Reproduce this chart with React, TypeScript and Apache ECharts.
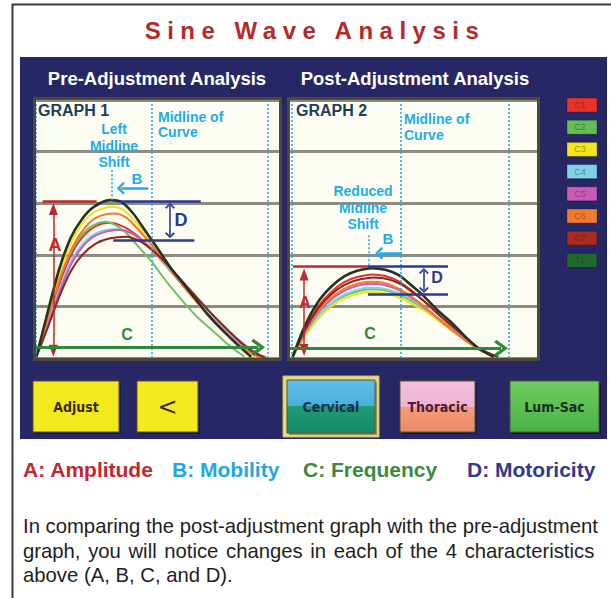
import { useEffect, useRef } from 'react';
import * as echarts from 'echarts';

// ---------- data ----------
const TITLE = 'Sine Wave Analysis';
const segments = ['C1', 'C2', 'C3', 'C4', 'C5', 'C6', 'C7', 'T1'];
const segmentColors = ['#e8322b', '#62be55', '#f4e51c', '#7fd2e6', '#c95bb8', '#f27a2a', '#a82a24', '#1f6b2e'];
const curveColors = ['#e8322b', '#6cc25c', '#f2e21a', '#7fd2e6', '#c95bb8', '#f27a2a', '#8e2420', '#283220'];

// Graph 1 (pre-adjustment): [x, amplitude]
const preC1 = [[0, 0], [0.5, 0.7], [1, 1.42], [1.5, 1.98], [2, 2.34], [2.6, 2.56], [3.2, 2.62], [3.8, 2.54], [4.4, 2.36], [5, 2.1], [5.6, 1.8], [6.2, 1.48], [6.8, 1.16], [7.4, 0.86], [8, 0.58], [8.6, 0.34], [9.2, 0.14], [9.8, 0.02]];
const preC2 = [[0, 0], [0.5, 0.78], [1, 1.5], [1.5, 2.05], [2, 2.4], [2.5, 2.58], [3, 2.64], [3.5, 2.56], [4, 2.38], [4.5, 2.12], [5, 1.87], [5.5, 1.56], [6, 1.28], [6.5, 1.02], [7, 0.78], [7.5, 0.58], [8, 0.38], [8.5, 0.19], [9, 0.03]];
const preC3 = [[0, 0], [0.5, 0.82], [1, 1.62], [1.5, 2.22], [2, 2.6], [2.5, 2.82], [3.3, 2.93], [3.8, 2.86], [4.3, 2.64], [4.8, 2.36], [5.3, 2.05], [5.9, 1.68], [6.5, 1.33], [7.1, 1.0], [7.7, 0.7], [8.3, 0.44], [8.9, 0.2], [9.5, 0.02]];
const preC4 = [[0, 0], [0.5, 0.66], [1, 1.32], [1.5, 1.86], [2, 2.2], [2.6, 2.42], [3.5, 2.5], [4.1, 2.42], [4.7, 2.22], [5.3, 1.96], [5.9, 1.66], [6.5, 1.34], [7.1, 1.04], [7.7, 0.74], [8.3, 0.48], [8.9, 0.26], [9.5, 0.08], [9.9, 0]];
const preC5 = [[0, 0], [0.5, 0.62], [1, 1.26], [1.5, 1.8], [2, 2.15], [2.6, 2.38], [3.6, 2.48], [4.2, 2.4], [4.8, 2.2], [5.4, 1.94], [6, 1.64], [6.6, 1.34], [7.2, 1.04], [7.8, 0.76], [8.4, 0.5], [9, 0.26], [9.6, 0.08], [10, 0]];
const preC6 = [[0, 0], [0.5, 0.75], [1, 1.5], [1.5, 2.08], [2, 2.46], [2.6, 2.72], [3.4, 2.8], [3.9, 2.72], [4.4, 2.5], [4.9, 2.24], [5.4, 1.96], [6, 1.62], [6.6, 1.28], [7.2, 0.96], [7.8, 0.66], [8.4, 0.4], [9, 0.18], [9.6, 0.02]];
const preC7 = [[0, 0], [0.5, 0.58], [1, 1.18], [1.5, 1.68], [2, 2.0], [2.6, 2.22], [3.2, 2.32], [3.9, 2.35], [4.5, 2.26], [5.1, 2.06], [5.7, 1.8], [6.3, 1.5], [6.9, 1.2], [7.5, 0.9], [8.1, 0.62], [8.7, 0.36], [9.3, 0.14], [9.9, 0]];
const preT1 = [[0, 0], [0.5, 0.88], [1, 1.72], [1.5, 2.33], [2, 2.7], [2.5, 2.93], [3.2, 3.06], [3.7, 3.02], [4.2, 2.8], [4.7, 2.48], [5.2, 2.16], [5.8, 1.76], [6.4, 1.42], [7, 1.08], [7.5, 0.8], [8.1, 0.52], [8.7, 0.26], [9.3, 0.02]];

// Graph 2 (post-adjustment)
const postC1 = [[0, 0], [0.6, 0.58], [1.2, 1.0], [1.8, 1.28], [2.4, 1.47], [3, 1.57], [3.7, 1.62], [4.3, 1.59], [4.9, 1.49], [5.5, 1.31], [6.1, 1.1], [6.7, 0.86], [7.4, 0.6], [8, 0.38], [8.6, 0.18], [9.4, 0.02]];
const postC2 = [[0, 0], [0.6, 0.47], [1.2, 0.82], [1.8, 1.05], [2.4, 1.2], [3, 1.29], [3.6, 1.33], [4.2, 1.32], [4.8, 1.25], [5.4, 1.13], [6, 0.97], [6.7, 0.76], [7.4, 0.53], [8.1, 0.32], [8.8, 0.13], [9.6, 0.01]];
const postC3 = [[0, 0], [0.6, 0.42], [1.2, 0.76], [1.8, 1.0], [2.4, 1.15], [3, 1.24], [3.5, 1.28], [4.1, 1.27], [4.7, 1.21], [5.3, 1.1], [6, 0.94], [6.7, 0.74], [7.4, 0.52], [8.1, 0.31], [8.8, 0.13], [9.6, 0.01]];
const postC4 = [[0, 0], [0.6, 0.46], [1.2, 0.82], [1.8, 1.06], [2.4, 1.23], [3, 1.32], [3.5, 1.36], [4.1, 1.35], [4.8, 1.28], [5.4, 1.16], [6, 1.0], [6.7, 0.78], [7.4, 0.55], [8.1, 0.33], [8.8, 0.14], [9.6, 0.01]];
const postC5 = [[0, 0], [0.6, 0.5], [1.2, 0.88], [1.8, 1.13], [2.4, 1.3], [3, 1.4], [3.6, 1.44], [4.2, 1.42], [4.8, 1.34], [5.4, 1.2], [6, 1.02], [6.6, 0.81], [7.3, 0.57], [8, 0.35], [8.7, 0.15], [9.5, 0.01]];
const postC6 = [[0, 0], [0.6, 0.52], [1.2, 0.91], [1.8, 1.17], [2.4, 1.34], [3, 1.44], [3.6, 1.48], [4.2, 1.46], [4.8, 1.37], [5.4, 1.22], [6, 1.03], [6.6, 0.82], [7.3, 0.58], [7.9, 0.37], [8.6, 0.17], [9.4, 0.02]];
const postC7 = [[0, 0], [0.6, 0.55], [1.2, 0.96], [1.8, 1.23], [2.4, 1.41], [3, 1.51], [3.8, 1.56], [4.4, 1.53], [5, 1.43], [5.6, 1.26], [6.2, 1.06], [6.8, 0.83], [7.5, 0.58], [8.1, 0.36], [8.7, 0.17], [9.5, 0.02]];
const postT1 = [[0, 0], [0.6, 0.64], [1.2, 1.09], [1.8, 1.38], [2.4, 1.58], [3, 1.69], [3.7, 1.74], [4.3, 1.71], [4.9, 1.61], [5.5, 1.41], [6.1, 1.19], [6.7, 0.93], [7.4, 0.67], [8, 0.41], [8.6, 0.19], [9.3, 0.02]];

const preCurves = [preC1, preC2, preC3, preC4, preC5, preC6, preC7, preT1];
const postCurves = [postC1, postC2, postC3, postC4, postC5, postC6, postC7, postT1];

const yTicks = [0, 1, 2, 3, 4, 5];
const guideX = [0, 5, 10];

const buttonLabels = ['Adjust', '<', 'Cervical', 'Thoracic', 'Lum-Sac'];
const keyLabels = ['A: Amplitude', 'B: Mobility', 'C: Frequency', 'D: Motoricity'];
const paragraph = [
  'In comparing the post-adjustment graph with the pre-adjustment',
  'graph, you will notice changes in each of the 4 characteristics',
  'above (A, B, C, and D).',
];

// ---------- styles ----------
const RED = '#c1272d';
const NAVY = '#2b3990';
const CYAN = '#1cadea';
const GREEN = '#2e8a3a';
const FONT = 'Liberation Sans';
const chevron = 'path://M5,0 L10,8.2 L8.5,9.8 L5,3.8 L1.5,9.8 L0,8.2 Z';

type Ann = {
  redTop: number[]; aX: number; aY: number[]; blueTop: number[]; blueBot: number[];
  dX: number; dY: number[]; bX: number[]; bY: number; shiftX: number; shiftY: number[];
  cX: number[]; cY: number;
};

const annPre: Ann = {
  redTop: [0.29, 2.62, 3.04], aX: 0.75, aY: [2.89, 0.14],
  blueTop: [3.63, 7.12, 3.04], blueBot: [3.34, 6.84, 2.29],
  dX: 5.79, dY: [2.95, 2.38], bX: [4.85, 3.66], bY: 3.29,
  shiftX: 3.28, shiftY: [3.64, 3.06], cX: [0, 9.6], cY: 0.207,
};
const annPost: Ann = {
  redTop: [0.04, 3.5, 1.77], aX: 0.55, aY: [1.62, 0.155],
  blueTop: [3.5, 7.19, 1.77], blueBot: [3.5, 7.19, 1.23],
  dX: 6.08, dY: [1.686, 1.318], bX: [5.05, 4.01], bY: 2.03,
  shiftX: 3.55, shiftY: [2.38, 1.8], cX: [-0.1, 9.64], cY: 0.19,
};

function seg(a: number[], b: number[], color: string, width: number, type: any = 'solid', s1: any = 'none', s2: any = 'none') {
  const ls = { color, width, type };
  return [
    { coord: a, symbol: s1 === 'none' ? 'none' : s1.symbol, symbolSize: s1 === 'none' ? 0 : s1.size, lineStyle: ls, itemStyle: { color } },
    { coord: b, symbol: s2 === 'none' ? 'none' : s2.symbol, symbolSize: s2 === 'none' ? 0 : s2.size, lineStyle: ls, itemStyle: { color } },
  ];
}

function markLines(a: Ann) {
  const dotted = { color: CYAN, width: 1.6, type: [2, 2] };
  return [
    ...guideX.map((x) => ({ xAxis: x, lineStyle: dotted, symbol: 'none' })),
    seg([a.shiftX, a.shiftY[0]], [a.shiftX, a.shiftY[1]], CYAN, 1.6, [2, 2]),
    seg([a.redTop[0], a.redTop[2]], [a.redTop[1], a.redTop[2]], RED, 2.5),
    seg([a.aX, a.aY[0]], [a.aX, a.aY[1]], RED, 1.5, 'solid', { symbol: 'triangle', size: [9, 12] }, { symbol: 'triangle', size: [9, 12] }),
    seg([a.blueTop[0], a.blueTop[2]], [a.blueTop[1], a.blueTop[2]], NAVY, 2.5),
    seg([a.blueBot[0], a.blueBot[2]], [a.blueBot[1], a.blueBot[2]], NAVY, 2.5),
    seg([a.dX, a.dY[0]], [a.dX, a.dY[1]], NAVY, 1.6, 'solid', { symbol: chevron, size: [10, 6] }, { symbol: chevron, size: [10, 6] }),
    seg([a.bX[0], a.bY], [a.bX[1], a.bY], CYAN, 2.5, 'solid', 'none', { symbol: chevron, size: [13, 8] }),
    seg([a.cX[0], a.cY], [a.cX[1], a.cY], GREEN, 3, 'solid', 'none', { symbol: chevron, size: [17, 14] }),
  ];
}

function curveSeries(curves: number[][][], idx: number, ann: Ann) {
  return curves.map((d, i) => ({
    type: 'line',
    name: segments[i],
    xAxisIndex: idx,
    yAxisIndex: idx,
    data: d,
    smooth: 0.3,
    showSymbol: false,
    silent: true,
    z: 3,
    lineStyle: { color: curveColors[i], width: i === 7 ? 2.6 : 2 },
    markLine: i === 7
      ? { silent: true, symbol: ['none', 'none'], label: { show: false }, animation: false, data: markLines(ann) }
      : undefined,
  }));
}

function txt(text: string, x: number, y: number, size: number, color: string, align = 'left', weight: any = 'bold', family = FONT) {
  return {
    type: 'text', x, y, z: 60,
    style: { text, fill: color, fontSize: size, fontWeight: weight, fontFamily: family, textAlign: align, textVerticalAlign: 'middle' },
  };
}

function button(x: number, y: number, w: number, h: number, fill: any, label: string, color: string, size = 14, family = 'DejaVu Sans Condensed', weight: any = 'bold') {
  return [
    { type: 'rect', z: 40, shape: { x: x + 2, y: y + 2, width: w, height: h }, style: { fill: 'rgba(0,0,0,0.35)' } },
    { type: 'rect', z: 41, shape: { x, y, width: w, height: h }, style: { fill, stroke: '#5a5420', lineWidth: 1 } },
    txt(label, x + w / 2, y + h / 2, size, color, 'center', weight, family),
  ];
}

function grad(stops: [number, string][]) {
  return new echarts.graphic.LinearGradient(0, 0, 0, 1, stops.map(([offset, color]) => ({ offset, color })));
}

export default function App() {
  const ref = useRef<HTMLDivElement>(null);
  useEffect(() => {
    const el = ref.current!;
    const chart = echarts.init(el, null, { renderer: 'svg', width: 611, height: 598 });

    const axisY = (gi: number) => ({
      type: 'value', gridIndex: gi, min: yTicks[0], max: yTicks[yTicks.length - 1], interval: 1,
      axisLine: { show: false }, axisTick: { show: false }, axisLabel: { show: false },
      splitLine: { show: true, lineStyle: { color: '#8d8c84', width: 3 } },
    });

    const legendBoxes: any[] = [];
    segments.forEach((s, i) => {
      const y = 98 + i * 22.2;
      legendBoxes.push({ type: 'rect', z: 20, shape: { x: 567, y, width: 30, height: 14 }, style: { fill: segmentColors[i], stroke: 'rgba(0,0,0,0.25)', lineWidth: 1 } });
      legendBoxes.push(txt(s, 580, y + 7, 9, 'rgba(60,20,10,0.45)', 'center', 'normal'));
    });

    const option: any = {
      animation: false,
      backgroundColor: '#ffffff',
      grid: [
        { left: 36, top: 100, width: 243, height: 258, show: true, backgroundColor: '#fefdf3', borderWidth: 0 },
        { left: 290, top: 100, width: 247, height: 258, show: true, backgroundColor: '#fefdf3', borderWidth: 0 },
      ],
      xAxis: [
        { type: 'value', gridIndex: 0, min: 0, max: 10.5, show: false },
        { type: 'value', gridIndex: 1, min: -0.1, max: 11.3, show: false },
      ],
      yAxis: [axisY(0), axisY(1)],
      series: [...curveSeries(preCurves, 0, annPre), ...curveSeries(postCurves, 1, annPost)],
      graphic: [
        // outer page frame
        { type: 'rect', z: -20, shape: { x: 12.5, y: 4.5, width: 700, height: 700 }, style: { fill: '#ffffff', stroke: '#3a3a3a', lineWidth: 2 } },
        // navy panel
        { type: 'rect', z: -10, shape: { x: 20, y: 57, width: 587, height: 382 }, style: { fill: '#282766' } },
        // graph frames
        { type: 'rect', z: 30, shape: { x: 34.5, y: 98.5, width: 246, height: 261 }, style: { fill: 'none', stroke: '#4d4935', lineWidth: 3 } },
        { type: 'rect', z: 30, shape: { x: 288.5, y: 98.5, width: 250, height: 261 }, style: { fill: 'none', stroke: '#4d4935', lineWidth: 3 } },
        txt(TITLE, 315, 30, 24, '#b5292a', 'center'),
        txt('Pre-Adjustment Analysis', 157, 78, 18.5, '#ffffff', 'center'),
        txt('Post-Adjustment Analysis', 415, 78, 18.5, '#ffffff', 'center'),
        // graph 1 labels
        txt('GRAPH 1', 38, 110.2, 16, '#1d3d5c'),
        txt('Midline of', 158, 116.7, 14, CYAN),
        txt('Curve', 158, 132.3, 14, CYAN),
        txt('Left', 114, 129, 14, CYAN, 'center'),
        txt('Midline', 114, 145.7, 14, CYAN, 'center'),
        txt('Shift', 114, 162.3, 14, CYAN, 'center'),
        txt('B', 137, 178, 15, CYAN, 'center'),
        txt('D', 181, 220, 18, NAVY, 'center'),
        txt('A', 55, 245, 18, RED, 'center'),
        txt('C', 127, 334, 16, GREEN, 'center'),
        // graph 2 labels
        txt('GRAPH 2', 296, 110.2, 16, '#1d3d5c'),
        txt('Midline of', 404, 119, 14, CYAN),
        txt('Curve', 404, 135, 14, CYAN),
        txt('Reduced', 363, 191, 14, CYAN, 'center'),
        txt('Midline', 363, 207.7, 14, CYAN, 'center'),
        txt('Shift', 363, 224.3, 14, CYAN, 'center'),
        txt('B', 388, 238.5, 15, CYAN, 'center'),
        txt('D', 437, 277.5, 16, NAVY, 'center'),
        txt('A', 305, 302, 16, RED, 'center'),
        txt('C', 370, 333.5, 16, GREEN, 'center'),
        ...legendBoxes,
        // buttons
        ...button(33, 381, 86, 51, '#f4e91c', buttonLabels[0], '#3a2a00', 14),
        ...button(137, 381, 61, 51, '#f4e91c', buttonLabels[1], '#3a2a00', 24, 'DejaVu Sans', 'normal'),
        { type: 'rect', z: 39, shape: { x: 283, y: 376, width: 96, height: 61 }, style: { fill: '#e6da86', stroke: '#c9bb5a', lineWidth: 1 } },
        ...button(287, 380, 88, 53, grad([[0, '#5fc0ea'], [0.5, '#47aedc'], [0.5, '#1d9c78'], [1, '#168868']]), buttonLabels[2], '#1e2b55', 14),
        ...button(400, 381, 75, 51, grad([[0, '#f5c0dc'], [0.5, '#efb2d2'], [0.5, '#f49c7c'], [1, '#ee8a68']]), buttonLabels[3], '#4a2030', 14),
        ...button(510, 381, 89, 51, grad([[0, '#6fcd62'], [1, '#49b247']]), buttonLabels[4], '#17301a', 14),
        // key
        txt(keyLabels[0], 23, 469, 21, RED),
        txt(keyLabels[1], 172, 469, 21, '#1ea9e1'),
        txt(keyLabels[2], 303, 469, 21, '#3a8a3e'),
        txt(keyLabels[3], 467, 469, 21, '#2e3a8c'),
        // paragraph
        txt(paragraph[0], 23, 525.7, 20.3, '#1e1e1e', 'left', 'normal'),
        txt(paragraph[1], 23, 550.7, 20.3, '#1e1e1e', 'left', 'normal'),
        txt(paragraph[2], 23, 574.7, 20.3, '#1e1e1e', 'left', 'normal'),
      ],
    };
    chart.setOption(option);

    const svg = el.querySelector('svg');
    if (svg) {
      svg.querySelectorAll('text').forEach((t) => {
        if (t.textContent === TITLE) t.setAttribute('letter-spacing', '6.5');
        if (t.textContent === paragraph[1]) t.setAttribute('word-spacing', '2');
      });
    }
    return () => chart.dispose();
  }, []);
  return <div ref={ref} style={{ position: 'fixed', left: 0, top: 0, width: 611, height: 598 }} />;
}
